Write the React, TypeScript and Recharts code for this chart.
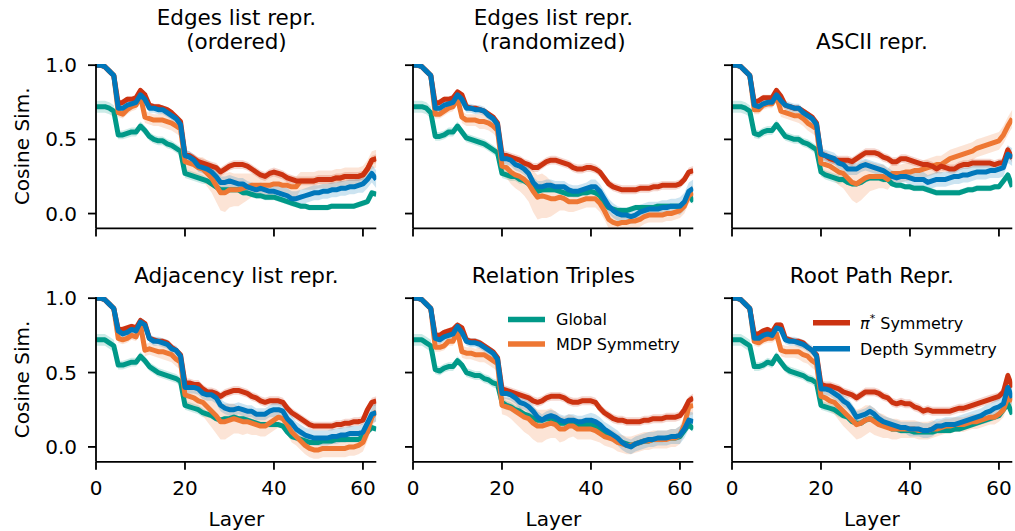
import { Area, ComposedChart, Line, XAxis, YAxis } from "recharts";

// layer index 0..63 on the x axis
const layers = Array.from({ length: 64 }, (_, i) => i);

// cosine similarity per layer, in hundredths
const orderedGlobal = [
  72, 72, 72, 71, 69, 53, 53, 54, 55, 55,
  59, 56, 52, 50, 49, 49, 47, 46, 44, 42,
  27, 26, 25, 24, 23, 22, 20, 18, 16, 16,
  16, 16, 16, 14, 14, 13, 12, 12, 11, 11,
  11, 10, 9, 8, 7, 6, 5, 5, 4, 4,
  4, 4, 4, 5, 5, 5, 5, 5, 5, 6,
  7, 8, 14, 13,
];
const orderedMdp = [
  100, 100, 99, 96, 93, 68, 67, 70, 72, 73,
  79, 65, 64, 63, 63, 63, 62, 61, 59, 57,
  35, 34, 33, 31, 30, 27, 24, 19, 14, 14,
  16, 16, 16, 17, 18, 19, 19, 19, 19, 19,
  20, 20, 19, 19, 18, 18, 22, 22, 22, 22,
  23, 23, 23, 23, 24, 24, 25, 25, 25, 25,
  26, 30, 36, 37,
];
const orderedPi = [
  100, 100, 99, 96, 93, 74, 75, 77, 77, 78,
  83, 80, 73, 72, 72, 71, 70, 68, 65, 62,
  40, 39, 37, 35, 34, 33, 32, 31, 28, 30,
  32, 33, 33, 33, 32, 30, 28, 26, 25, 27,
  28, 27, 26, 24, 23, 22, 22, 22, 22, 22,
  23, 23, 23, 23, 24, 24, 25, 25, 25, 25,
  26, 30, 36, 37,
];
const orderedDepth = [
  100, 100, 99, 96, 93, 71, 71, 73, 74, 75,
  80, 77, 71, 71, 70, 70, 68, 66, 64, 60,
  39, 38, 36, 32, 31, 30, 28, 25, 21, 21,
  22, 21, 20, 20, 18, 17, 16, 17, 16, 15,
  15, 14, 13, 12, 10, 10, 11, 12, 13, 14,
  14, 15, 15, 16, 16, 17, 17, 18, 18, 19,
  20, 23, 27, 23,
];

const randomGlobal = [
  72, 72, 72, 71, 68, 52, 52, 53, 55, 55,
  59, 55, 51, 50, 49, 48, 47, 45, 43, 41,
  27, 26, 25, 25, 23, 22, 20, 17, 15, 16,
  16, 16, 16, 15, 14, 13, 13, 13, 14, 14,
  15, 14, 12, 7, 4, 3, 2, 2, 2, 3,
  4, 4, 4, 4, 4, 5, 5, 5, 5, 5,
  5, 7, 13, 8,
];
const randomMdp = [
  100, 100, 99, 96, 93, 67, 67, 69, 71, 72,
  78, 65, 63, 63, 63, 62, 62, 61, 59, 56,
  32, 31, 28, 26, 25, 23, 20, 15, 11, 12,
  11, 10, 10, 11, 10, 8, 8, 8, 9, 10,
  10, 10, 7, 2, -4, -6, -7, -6, -6, -5,
  -5, -4, -2, -1, -1, -1, -1, 0, 0, 1,
  2, 5, 12, 14,
];
const randomPi = [
  100, 100, 99, 96, 93, 74, 75, 77, 77, 78,
  82, 80, 72, 71, 71, 70, 69, 67, 65, 61,
  40, 39, 38, 37, 36, 34, 33, 31, 31, 33,
  35, 36, 36, 35, 34, 33, 31, 30, 30, 31,
  31, 30, 28, 24, 20, 18, 17, 16, 16, 16,
  16, 17, 17, 17, 18, 18, 19, 19, 19, 19,
  20, 23, 28, 29,
];
const randomDepth = [
  100, 100, 99, 96, 93, 71, 71, 73, 74, 75,
  80, 77, 71, 71, 70, 70, 69, 66, 64, 60,
  37, 37, 36, 33, 32, 30, 27, 21, 18, 18,
  19, 19, 18, 18, 18, 16, 15, 15, 16, 17,
  18, 18, 15, 10, 5, 2, 0, -1, -1, -2,
  -1, 1, 2, 3, 3, 3, 4, 4, 5, 5,
  5, 8, 15, 17,
];

const asciiGlobal = [
  72, 72, 72, 71, 69, 54, 53, 55, 56, 56,
  60, 56, 52, 51, 50, 50, 48, 47, 45, 43,
  28, 26, 25, 24, 23, 23, 21, 20, 20, 21,
  23, 24, 24, 24, 23, 23, 20, 19, 19, 18,
  18, 17, 17, 17, 16, 15, 14, 14, 14, 14,
  14, 14, 15, 16, 16, 17, 17, 17, 17, 18,
  18, 22, 26, 18,
];
const asciiMdp = [
  100, 100, 99, 96, 93, 70, 70, 73, 74, 74,
  79, 69, 68, 67, 66, 66, 64, 61, 59, 57,
  34, 33, 32, 30, 28, 27, 24, 21, 20, 22,
  24, 25, 25, 25, 25, 23, 27, 27, 27, 28,
  28, 29, 29, 30, 31, 32, 33, 33, 35, 37,
  38, 39, 40, 41, 42, 44, 45, 46, 47, 48,
  49, 53, 59, 64,
];
const asciiPi = [
  100, 100, 99, 96, 93, 75, 76, 78, 78, 78,
  83, 79, 73, 72, 71, 71, 69, 67, 65, 61,
  40, 39, 37, 36, 36, 36, 36, 35, 37, 39,
  41, 41, 41, 40, 38, 37, 35, 35, 37, 37,
  36, 35, 34, 33, 33, 32, 30, 32, 31, 30,
  30, 32, 33, 33, 34, 34, 34, 34, 34, 33,
  34, 34, 43, 37,
];
const asciiDepth = [
  100, 100, 99, 96, 93, 73, 72, 74, 75, 75,
  80, 76, 73, 72, 71, 71, 68, 66, 64, 60,
  40, 39, 38, 37, 34, 33, 30, 30, 30, 32,
  33, 32, 31, 30, 29, 27, 25, 24, 25, 25,
  24, 23, 23, 23, 21, 22, 23, 23, 23, 24,
  25, 25, 26, 26, 27, 28, 28, 28, 29, 29,
  30, 31, 40, 38,
];

const adjacencyGlobal = [
  72, 72, 72, 70, 68, 55, 55, 56, 57, 57,
  61, 58, 54, 52, 50, 49, 48, 47, 46, 44,
  28, 27, 26, 25, 23, 22, 21, 19, 18, 19,
  19, 20, 19, 19, 18, 17, 16, 15, 15, 15,
  15, 15, 14, 10, 7, 6, 5, 4, 3, 3,
  3, 4, 4, 4, 5, 5, 5, 5, 5, 5,
  7, 10, 13, 12,
];
const adjacencyMdp = [
  100, 100, 99, 96, 93, 73, 72, 73, 75, 74,
  82, 65, 66, 65, 64, 64, 63, 62, 59, 57,
  35, 34, 33, 31, 30, 27, 24, 21, 17, 17,
  18, 19, 18, 17, 17, 16, 15, 14, 14, 16,
  18, 20, 19, 15, 10, 7, 4, 1, -1, -2,
  -2, -1, -1, -1, -1, -1, -1, 0, 0, 1,
  3, 10, 20, 24,
];
const adjacencyPi = [
  100, 100, 99, 96, 93, 79, 79, 80, 81, 80,
  85, 83, 73, 72, 71, 71, 70, 67, 65, 62,
  43, 43, 42, 42, 39, 37, 37, 36, 34, 36,
  37, 38, 38, 37, 36, 34, 33, 31, 30, 31,
  31, 31, 30, 26, 23, 21, 19, 17, 15, 14,
  14, 14, 14, 14, 15, 15, 16, 16, 17, 17,
  18, 25, 30, 31,
];
const adjacencyDepth = [
  100, 100, 99, 96, 93, 78, 76, 77, 79, 78,
  84, 82, 73, 71, 71, 70, 69, 66, 65, 61,
  40, 40, 40, 39, 36, 35, 35, 33, 28, 26,
  25, 25, 26, 25, 24, 24, 22, 22, 22, 24,
  25, 25, 24, 19, 16, 12, 10, 8, 7, 6,
  6, 6, 6, 7, 7, 8, 8, 9, 9, 9,
  10, 16, 22, 23,
];

const triplesGlobal = [
  72, 72, 72, 70, 68, 52, 51, 53, 54, 54,
  58, 55, 50, 49, 48, 48, 46, 45, 43, 42,
  30, 28, 27, 25, 24, 22, 21, 19, 18, 18,
  19, 19, 18, 16, 16, 17, 17, 15, 15, 15,
  15, 14, 12, 10, 8, 6, 5, 3, 2, 1,
  2, 3, 4, 4, 5, 5, 5, 6, 6, 6,
  7, 11, 15, 12,
];
const triplesMdp = [
  100, 100, 99, 96, 93, 67, 67, 68, 71, 71,
  78, 64, 63, 63, 62, 62, 62, 60, 58, 56,
  28, 27, 26, 24, 22, 20, 19, 16, 14, 14,
  15, 16, 15, 12, 12, 14, 14, 12, 12, 12,
  12, 11, 9, 7, 6, 5, 3, 2, 1, 1,
  2, 3, 4, 4, 5, 5, 5, 5, 6, 6,
  8, 15, 27, 28,
];
const triplesPi = [
  100, 100, 99, 96, 93, 75, 75, 77, 78, 79,
  82, 80, 72, 71, 71, 70, 68, 66, 64, 60,
  39, 38, 37, 36, 35, 34, 33, 31, 30, 31,
  33, 34, 34, 34, 33, 31, 30, 30, 31, 31,
  31, 30, 26, 23, 21, 19, 18, 18, 17, 17,
  17, 17, 18, 18, 19, 19, 19, 20, 20, 20,
  21, 25, 31, 33,
];
const triplesDepth = [
  100, 100, 99, 96, 93, 73, 72, 74, 75, 76,
  81, 77, 71, 70, 70, 69, 67, 65, 63, 59,
  36, 36, 35, 33, 30, 29, 27, 24, 20, 18,
  20, 21, 20, 18, 17, 18, 18, 17, 17, 18,
  18, 17, 15, 12, 10, 8, 6, 3, 1, 0,
  2, 3, 4, 5, 5, 6, 6, 6, 7, 7,
  8, 12, 18, 17,
];

const rootGlobal = [
  72, 72, 72, 70, 68, 54, 54, 55, 57, 56,
  61, 57, 53, 51, 50, 49, 48, 46, 45, 43,
  28, 27, 26, 25, 23, 21, 20, 17, 16, 16,
  18, 19, 18, 16, 15, 14, 12, 12, 11, 11,
  11, 10, 10, 10, 10, 10, 11, 11, 11, 11,
  12, 12, 13, 14, 15, 16, 17, 18, 19, 20,
  21, 25, 29, 22,
];
const rootMdp = [
  100, 100, 99, 96, 93, 71, 70, 72, 73, 73,
  76, 65, 64, 64, 64, 64, 62, 61, 58, 56,
  34, 33, 31, 30, 27, 24, 21, 18, 15, 16,
  18, 19, 17, 15, 14, 13, 12, 12, 12, 12,
  12, 12, 11, 11, 11, 12, 12, 13, 14, 14,
  15, 15, 15, 16, 17, 17, 18, 19, 20, 20,
  22, 25, 33, 31,
];
const rootPi = [
  100, 100, 99, 96, 93, 76, 76, 78, 79, 77,
  82, 82, 73, 72, 71, 71, 70, 67, 65, 62,
  42, 41, 41, 40, 39, 37, 36, 35, 33, 35,
  37, 37, 37, 36, 34, 33, 30, 29, 30, 29,
  29, 27, 26, 24, 25, 24, 24, 24, 24, 24,
  25, 26, 26, 27, 28, 29, 30, 31, 32, 33,
  34, 37, 48, 40,
];
const rootDepth = [
  100, 100, 99, 96, 93, 73, 73, 75, 76, 75,
  80, 79, 72, 71, 71, 70, 69, 67, 65, 61,
  39, 39, 38, 36, 34, 31, 29, 25, 20, 21,
  22, 24, 22, 19, 17, 16, 15, 14, 13, 13,
  12, 12, 12, 11, 11, 12, 14, 14, 15, 15,
  15, 16, 17, 18, 19, 20, 21, 23, 24, 26,
  27, 29, 40, 33,
];

// half-width of the shaded band, in hundredths
const globalSpread = [
  4, 4, 4, 4, 4, 3, 3, 3, 3, 3,
  3, 3, 3, 3, 3, 3, 3, 3, 3, 3,
  3, 3, 3, 3, 3, 2, 2, 2, 2, 2,
  2, 2, 2, 2, 2, 2, 2, 2, 2, 2,
  2, 2, 2, 2, 2, 2, 2, 2, 2, 2,
  2, 2, 2, 2, 2, 2, 2, 2, 2, 2,
  2, 2, 2, 2,
];
const piSpread = [
  1, 1, 1, 1, 1, 2, 2, 2, 2, 2,
  2, 2, 2, 2, 2, 2, 2, 2, 2, 2,
  3, 3, 3, 3, 3, 3, 3, 3, 3, 3,
  3, 3, 3, 3, 3, 3, 3, 3, 3, 3,
  3, 3, 3, 3, 3, 3, 3, 3, 3, 3,
  3, 3, 3, 3, 3, 3, 3, 3, 3, 3,
  3, 3, 3, 3,
];
const depthSpread = [
  1, 1, 1, 1, 1, 3, 3, 3, 3, 3,
  3, 3, 3, 3, 3, 3, 3, 3, 3, 3,
  4, 4, 4, 4, 4, 4, 4, 4, 4, 4,
  4, 4, 4, 4, 4, 4, 4, 4, 4, 4,
  5, 5, 5, 5, 5, 5, 5, 5, 5, 5,
  5, 5, 5, 5, 5, 5, 5, 5, 5, 5,
  6, 6, 6, 6,
];
const orderedMdpSpread = [
  1, 1, 1, 2, 2, 3, 3, 3, 3, 3,
  3, 4, 4, 4, 4, 5, 5, 5, 5, 5,
  6, 6, 7, 7, 8, 9, 10, 11, 12, 13,
  12, 11, 11, 10, 9, 8, 8, 7, 7, 7,
  7, 7, 7, 7, 7, 7, 6, 6, 6, 6,
  6, 6, 6, 6, 6, 6, 6, 6, 6, 6,
  6, 6, 6, 6,
];
const randomMdpSpread = [
  1, 1, 1, 2, 2, 3, 3, 3, 3, 3,
  3, 4, 4, 4, 4, 5, 5, 5, 5, 5,
  6, 7, 8, 9, 10, 11, 12, 14, 15, 15,
  14, 12, 10, 9, 8, 7, 7, 6, 6, 6,
  6, 6, 6, 6, 6, 5, 5, 5, 5, 5,
  5, 5, 5, 5, 5, 5, 5, 5, 5, 5,
  5, 5, 5, 5,
];
const asciiMdpSpread = [
  1, 1, 1, 2, 2, 3, 3, 3, 3, 3,
  4, 4, 4, 4, 4, 5, 5, 5, 5, 5,
  5, 6, 7, 8, 9, 10, 11, 12, 13, 13,
  12, 10, 9, 8, 8, 7, 7, 6, 6, 6,
  6, 6, 6, 6, 6, 6, 6, 6, 6, 6,
  6, 6, 6, 6, 6, 6, 6, 6, 6, 6,
  6, 6, 6, 6,
];
const adjacencyMdpSpread = [
  1, 1, 1, 2, 2, 3, 3, 3, 3, 3,
  4, 4, 4, 4, 4, 5, 5, 5, 5, 5,
  6, 6, 7, 8, 9, 10, 11, 12, 12, 12,
  11, 10, 9, 9, 8, 8, 7, 7, 7, 7,
  7, 7, 7, 7, 7, 6, 6, 6, 6, 6,
  6, 6, 6, 6, 6, 6, 6, 6, 6, 6,
  6, 6, 6, 6,
];
const triplesMdpSpread = [
  1, 1, 1, 2, 2, 3, 3, 3, 3, 3,
  4, 4, 4, 4, 4, 5, 5, 5, 5, 5,
  6, 6, 7, 8, 9, 10, 11, 11, 11, 11,
  10, 10, 9, 9, 8, 8, 7, 7, 7, 7,
  7, 7, 6, 6, 6, 6, 6, 6, 6, 6,
  6, 6, 6, 6, 6, 6, 6, 6, 6, 6,
  6, 6, 6, 6,
];
const rootMdpSpread = [
  1, 1, 1, 2, 2, 3, 3, 3, 3, 3,
  4, 4, 4, 4, 4, 5, 5, 5, 5, 5,
  6, 6, 7, 8, 9, 10, 10, 10, 10, 10,
  10, 9, 9, 8, 8, 7, 7, 7, 6, 6,
  6, 6, 6, 6, 6, 6, 5, 5, 5, 5,
  5, 5, 5, 5, 5, 5, 5, 5, 5, 5,
  5, 5, 5, 5,
];

const xTicks = [0, 20, 40, 60];
const yTicks = [0, 0.5, 1];

// draw order: global first, depth on top
const SERIES = [
  { key: "global", color: "#009988" },
  { key: "mdp", color: "#EE7733" },
  { key: "pi", color: "#CC3311" },
  { key: "depth", color: "#0077BB" },
];

type Values = Record<string, number[]>;
interface PanelDef {
  title: string[];
  values: Values;
  spread: Values;
}

const panels: PanelDef[] = [
  {
    title: ["Edges list repr.", "(ordered)"],
    values: { global: orderedGlobal, mdp: orderedMdp, pi: orderedPi, depth: orderedDepth },
    spread: { global: globalSpread, mdp: orderedMdpSpread, pi: piSpread, depth: depthSpread },
  },
  {
    title: ["Edges list repr.", "(randomized)"],
    values: { global: randomGlobal, mdp: randomMdp, pi: randomPi, depth: randomDepth },
    spread: { global: globalSpread, mdp: randomMdpSpread, pi: piSpread, depth: depthSpread },
  },
  {
    title: ["ASCII repr."],
    values: { global: asciiGlobal, mdp: asciiMdp, pi: asciiPi, depth: asciiDepth },
    spread: { global: globalSpread, mdp: asciiMdpSpread, pi: piSpread, depth: depthSpread },
  },
  {
    title: ["Adjacency list repr."],
    values: { global: adjacencyGlobal, mdp: adjacencyMdp, pi: adjacencyPi, depth: adjacencyDepth },
    spread: { global: globalSpread, mdp: adjacencyMdpSpread, pi: piSpread, depth: depthSpread },
  },
  {
    title: ["Relation Triples"],
    values: { global: triplesGlobal, mdp: triplesMdp, pi: triplesPi, depth: triplesDepth },
    spread: { global: globalSpread, mdp: triplesMdpSpread, pi: piSpread, depth: depthSpread },
  },
  {
    title: ["Root Path Repr."],
    values: { global: rootGlobal, mdp: rootMdp, pi: rootPi, depth: rootDepth },
    spread: { global: globalSpread, mdp: rootMdpSpread, pi: piSpread, depth: depthSpread },
  },
];

// grid geometry (px)
const FONT = "'DejaVu Sans', sans-serif";
const PLOT_W = 280.3;
const COL_X = [96.3, 413.3, 731.7];
const ROW_TOP = [64.1, 297.1];
const ROW_H = [164.4, 164.8];
const Y_AXIS_W = 96;
const X_AXIS_H = 60;
const PAD = 20; // room above the plot so the top tick label isn't clipped

function buildRows(p: PanelDef) {
  return layers.map((layer, i) => {
    const row: Record<string, number | number[]> = { layer };
    for (const s of SERIES) {
      const v = p.values[s.key][i];
      const sd = p.spread[s.key][i];
      row[s.key] = v / 100;
      row[s.key + "Band"] = [(v - sd) / 100, (v + sd) / 100];
    }
    return row;
  });
}

function Panel({ panel, col, row }: { panel: PanelDef; col: number; row: number }) {
  const rows = buildRows(panel);
  const plotH = ROW_H[row];
  const axis = { stroke: "#000", strokeWidth: 1.8 };
  return (
    <div style={{ position: "absolute", left: COL_X[col] - Y_AXIS_W, top: ROW_TOP[row] - PAD }}>
      <ComposedChart
        width={Y_AXIS_W + PLOT_W + PAD}
        height={PAD + plotH + X_AXIS_H}
        data={rows}
        margin={{ top: PAD, right: PAD, bottom: 0, left: 0 }}
      >
        <XAxis
          dataKey="layer"
          type="number"
          domain={[0, 63]}
          ticks={xTicks}
          allowDataOverflow
          height={X_AXIS_H}
          axisLine={axis}
          tickLine={axis}
          tickSize={8}
          tickMargin={11}
          tick={{ fill: "#000", fontSize: 20 }}
          tickFormatter={(v: number) => (row === 1 ? String(v) : "")}
        />
        <YAxis
          type="number"
          domain={[-0.1, 1.008]}
          ticks={yTicks}
          allowDataOverflow
          width={Y_AXIS_W}
          axisLine={axis}
          tickLine={axis}
          tickSize={8}
          tickMargin={11}
          tick={{ fill: "#000", fontSize: 20 }}
          tickFormatter={(v: number) => (col === 0 ? v.toFixed(1) : "")}
        />
        {SERIES.map((s) => [
          <Area
            key={s.key + "-band"}
            dataKey={s.key + "Band"}
            type="linear"
            stroke="none"
            fill={s.color}
            fillOpacity={0.2}
            dot={false}
            activeDot={false}
            isAnimationActive={false}
          />,
          <Line
            key={s.key + "-line"}
            dataKey={s.key}
            type="linear"
            stroke={s.color}
            strokeWidth={5}
            strokeLinejoin="round"
            dot={false}
            activeDot={false}
            isAnimationActive={false}
          />,
        ])}
      </ComposedChart>
    </div>
  );
}

function Annotations() {
  const centers = COL_X.map((x) => x + PLOT_W / 2);
  return (
    <svg
      width={1015}
      height={531}
      style={{ position: "absolute", left: 0, top: 0, pointerEvents: "none" }}
      fontFamily={FONT}
    >
      {panels.map((p, i) => {
        const col = i % 3;
        const row = Math.floor(i / 3);
        const base = row === 0 ? 48.5 : 282.7;
        return p.title.map((line, j) => (
          <text
            key={`${i}-${j}`}
            x={centers[col]}
            y={base - (p.title.length - 1 - j) * 23.5}
            textAnchor="middle"
            fontSize={21.5}
          >
            {line}
          </text>
        ));
      })}
      {ROW_TOP.map((top, r) => (
        <text
          key={"ylab" + r}
          transform={`translate(29, ${top + ROW_H[r] / 2}) rotate(-90)`}
          textAnchor="middle"
          fontSize={20}
        >
          Cosine Sim.
        </text>
      ))}
      {centers.map((cx, c) => (
        <text key={"xlab" + c} x={cx} y={526} textAnchor="middle" fontSize={20}>
          Layer
        </text>
      ))}

      {/* legend, split over the two lower-right panels */}
      <line x1={508} x2={545} y1={319.5} y2={319.5} stroke={SERIES[0].color} strokeWidth={5.5} />
      <text x={556} y={325.3} fontSize={16}>Global</text>
      <line x1={508} x2={545} y1={344} y2={344} stroke={SERIES[1].color} strokeWidth={5.5} />
      <text x={556} y={349.8} fontSize={16}>MDP Symmetry</text>
      <line x1={813} x2={850} y1={322.7} y2={322.7} stroke={SERIES[2].color} strokeWidth={5.5} />
      <text x={860} y={328.5} fontSize={16}>
        <tspan fontStyle="italic">π</tspan>
        <tspan dy={-7} fontSize={11}>*</tspan>
        <tspan dy={7}> Symmetry</tspan>
      </text>
      <line x1={813} x2={850} y1={348.7} y2={348.7} stroke={SERIES[3].color} strokeWidth={5.5} />
      <text x={860} y={354.5} fontSize={16}>Depth Symmetry</text>
    </svg>
  );
}

export default function App() {
  return (
    <div
      style={{
        position: "absolute",
        left: 0,
        top: 0,
        width: 1015,
        height: 531,
        background: "#fff",
        fontFamily: FONT,
        overflow: "hidden",
      }}
    >
      {panels.map((p, i) => (
        <Panel key={i} panel={p} col={i % 3} row={Math.floor(i / 3)} />
      ))}
      <Annotations />
    </div>
  );
}
